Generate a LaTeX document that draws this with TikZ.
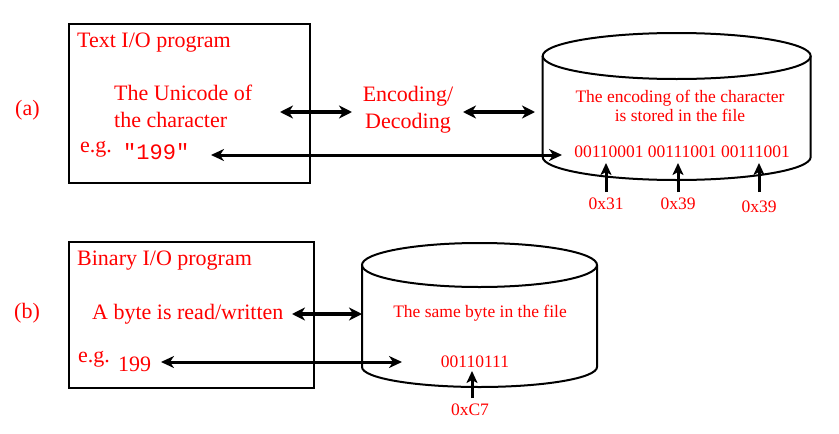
\documentclass[tikz,border=0pt]{standalone}
\usepackage{fontspec}
\setmainfont{Liberation Serif}
\setmonofont{Liberation Mono}
\usetikzlibrary{arrows.meta}
\definecolor{labelred}{RGB}{255, 0, 0}

\begin{document}
\begin{tikzpicture}[x=1pt, y=-1pt,
    txt/.style   ={inner sep=0pt, text=labelred, font=\fontsize{22}{26.5}\selectfont},
    small/.style ={inner sep=0pt, text=labelred, font=\fontsize{17.5}{19}\selectfont},
    frame/.style ={draw=black, line width=2.2pt},
    drum/.style  ={draw=black, line width=2pt},
    bothway/.style={line width=4pt, {Stealth[length=13pt, width=13pt, inset=4pt]}-{Stealth[length=13pt, width=13pt, inset=4pt]}},
    longway/.style={line width=3pt, {Stealth[length=13pt, width=12pt, inset=4pt]}-{Stealth[length=13pt, width=12pt, inset=4pt]}},
    pointer/.style={line width=3pt, -{Stealth[length=12pt, width=11pt, inset=3pt]}}]
            \useasboundingbox (0,0) rectangle (839,434);

            % (a) text I/O
            \draw[frame]                                          (69,24) rectangle (310,183);
            \node[txt, anchor=base west]              (taga)     at (15,115)  {(a)};
            \node[txt, anchor=base west]              (texttitle) at (77,47)  {Text I/O program};
            \node[txt, anchor=base west, align=left]  (unicode)  at (114,127) {The Unicode of\\the character};
            \node[txt, anchor=base west]              (ega)      at (80,152)  {e.g.};
            \node[txt, anchor=base west, font=\fontsize{22}{26}\ttfamily] (strval) at (123,159) {"199"};
            \node[txt, anchor=base, align=center]     (codec)    at (408,128) {Encoding/\\Decoding};

            % file with the encoded characters
            \draw[drum] (676.7,56) ellipse [x radius=134, y radius=23];
            \draw[drum] (542.7,56) -- (542.7,157) arc [start angle=180, end angle=0, x radius=134, y radius=23] -- (810.7,56);
            \node[small, anchor=base, align=center]   (stored)   at (680,121) {The encoding of the character\\is stored in the file};
            \node[small, anchor=base]                 (bitsa)    at (682,157) {00110001 00111001 00111001};

            \coordinate (unicodeR) at (280,112);  \coordinate (codecL) at (352,112);
            \coordinate (codecR)   at (463,112);  \coordinate (fileaL) at (535,112);
            \coordinate (strvalR)  at (211,155);  \coordinate (bitsaL) at (562,155);
            \draw[bothway] (unicodeR) -- (codecL);
            \draw[bothway] (codecR)   -- (fileaL);
            \draw[longway] (strvalR)  -- (bitsaL);

            \foreach \x/\y/\hex [count=\i] in {606/209/0x31, 678/209/0x39, 759/212/0x39}{
                \node[small, anchor=base] (hex\i) at (\x,\y) {\hex};
                \coordinate (foot\i) at (\x,192);
                \coordinate (byte\i) at (\x,163);
                \draw[pointer] (foot\i) -- (byte\i);
            }

            % (b) binary I/O
            \draw[frame]                                          (69,242) rectangle (314,388);
            \node[txt, anchor=base west]              (tagb)     at (14,318)  {(b)};
            \node[txt, anchor=base west]              (bintitle) at (77,265)  {Binary I/O program};
            \node[txt, anchor=base west]              (rawbyte)  at (92,319)  {A byte is read/written};
            \node[txt, anchor=base west]              (egb)      at (78,362)  {e.g.};
            \node[txt, anchor=base west]              (numval)   at (118,371) {199};

            % file with the same byte
            \draw[drum] (479.5,265) ellipse [x radius=117.5, y radius=22];
            \draw[drum] (362,265) -- (362,367) arc [start angle=180, end angle=0, x radius=117.5, y radius=20] -- (597,265);
            \node[small, anchor=base]                 (samebyte) at (480,317) {The same byte in the file};
            \node[small, anchor=base]                 (bitsb)    at (475,367) {00110111};
            \node[small, anchor=base]                 (hexb)     at (470,415) {0xC7};

            \coordinate (rawbyteR) at (292,314);  \coordinate (filebL) at (362,314);
            \coordinate (numvalR)  at (161,362);  \coordinate (bitsbL) at (402,362);
            \coordinate (footb)    at (472,398);  \coordinate (byteb)  at (472,371);
            \draw[bothway] (rawbyteR) -- (filebL);
            \draw[longway] (numvalR)  -- (bitsbL);
            \draw[pointer] (footb)    -- (byteb);
\end{tikzpicture}
\end{document}
